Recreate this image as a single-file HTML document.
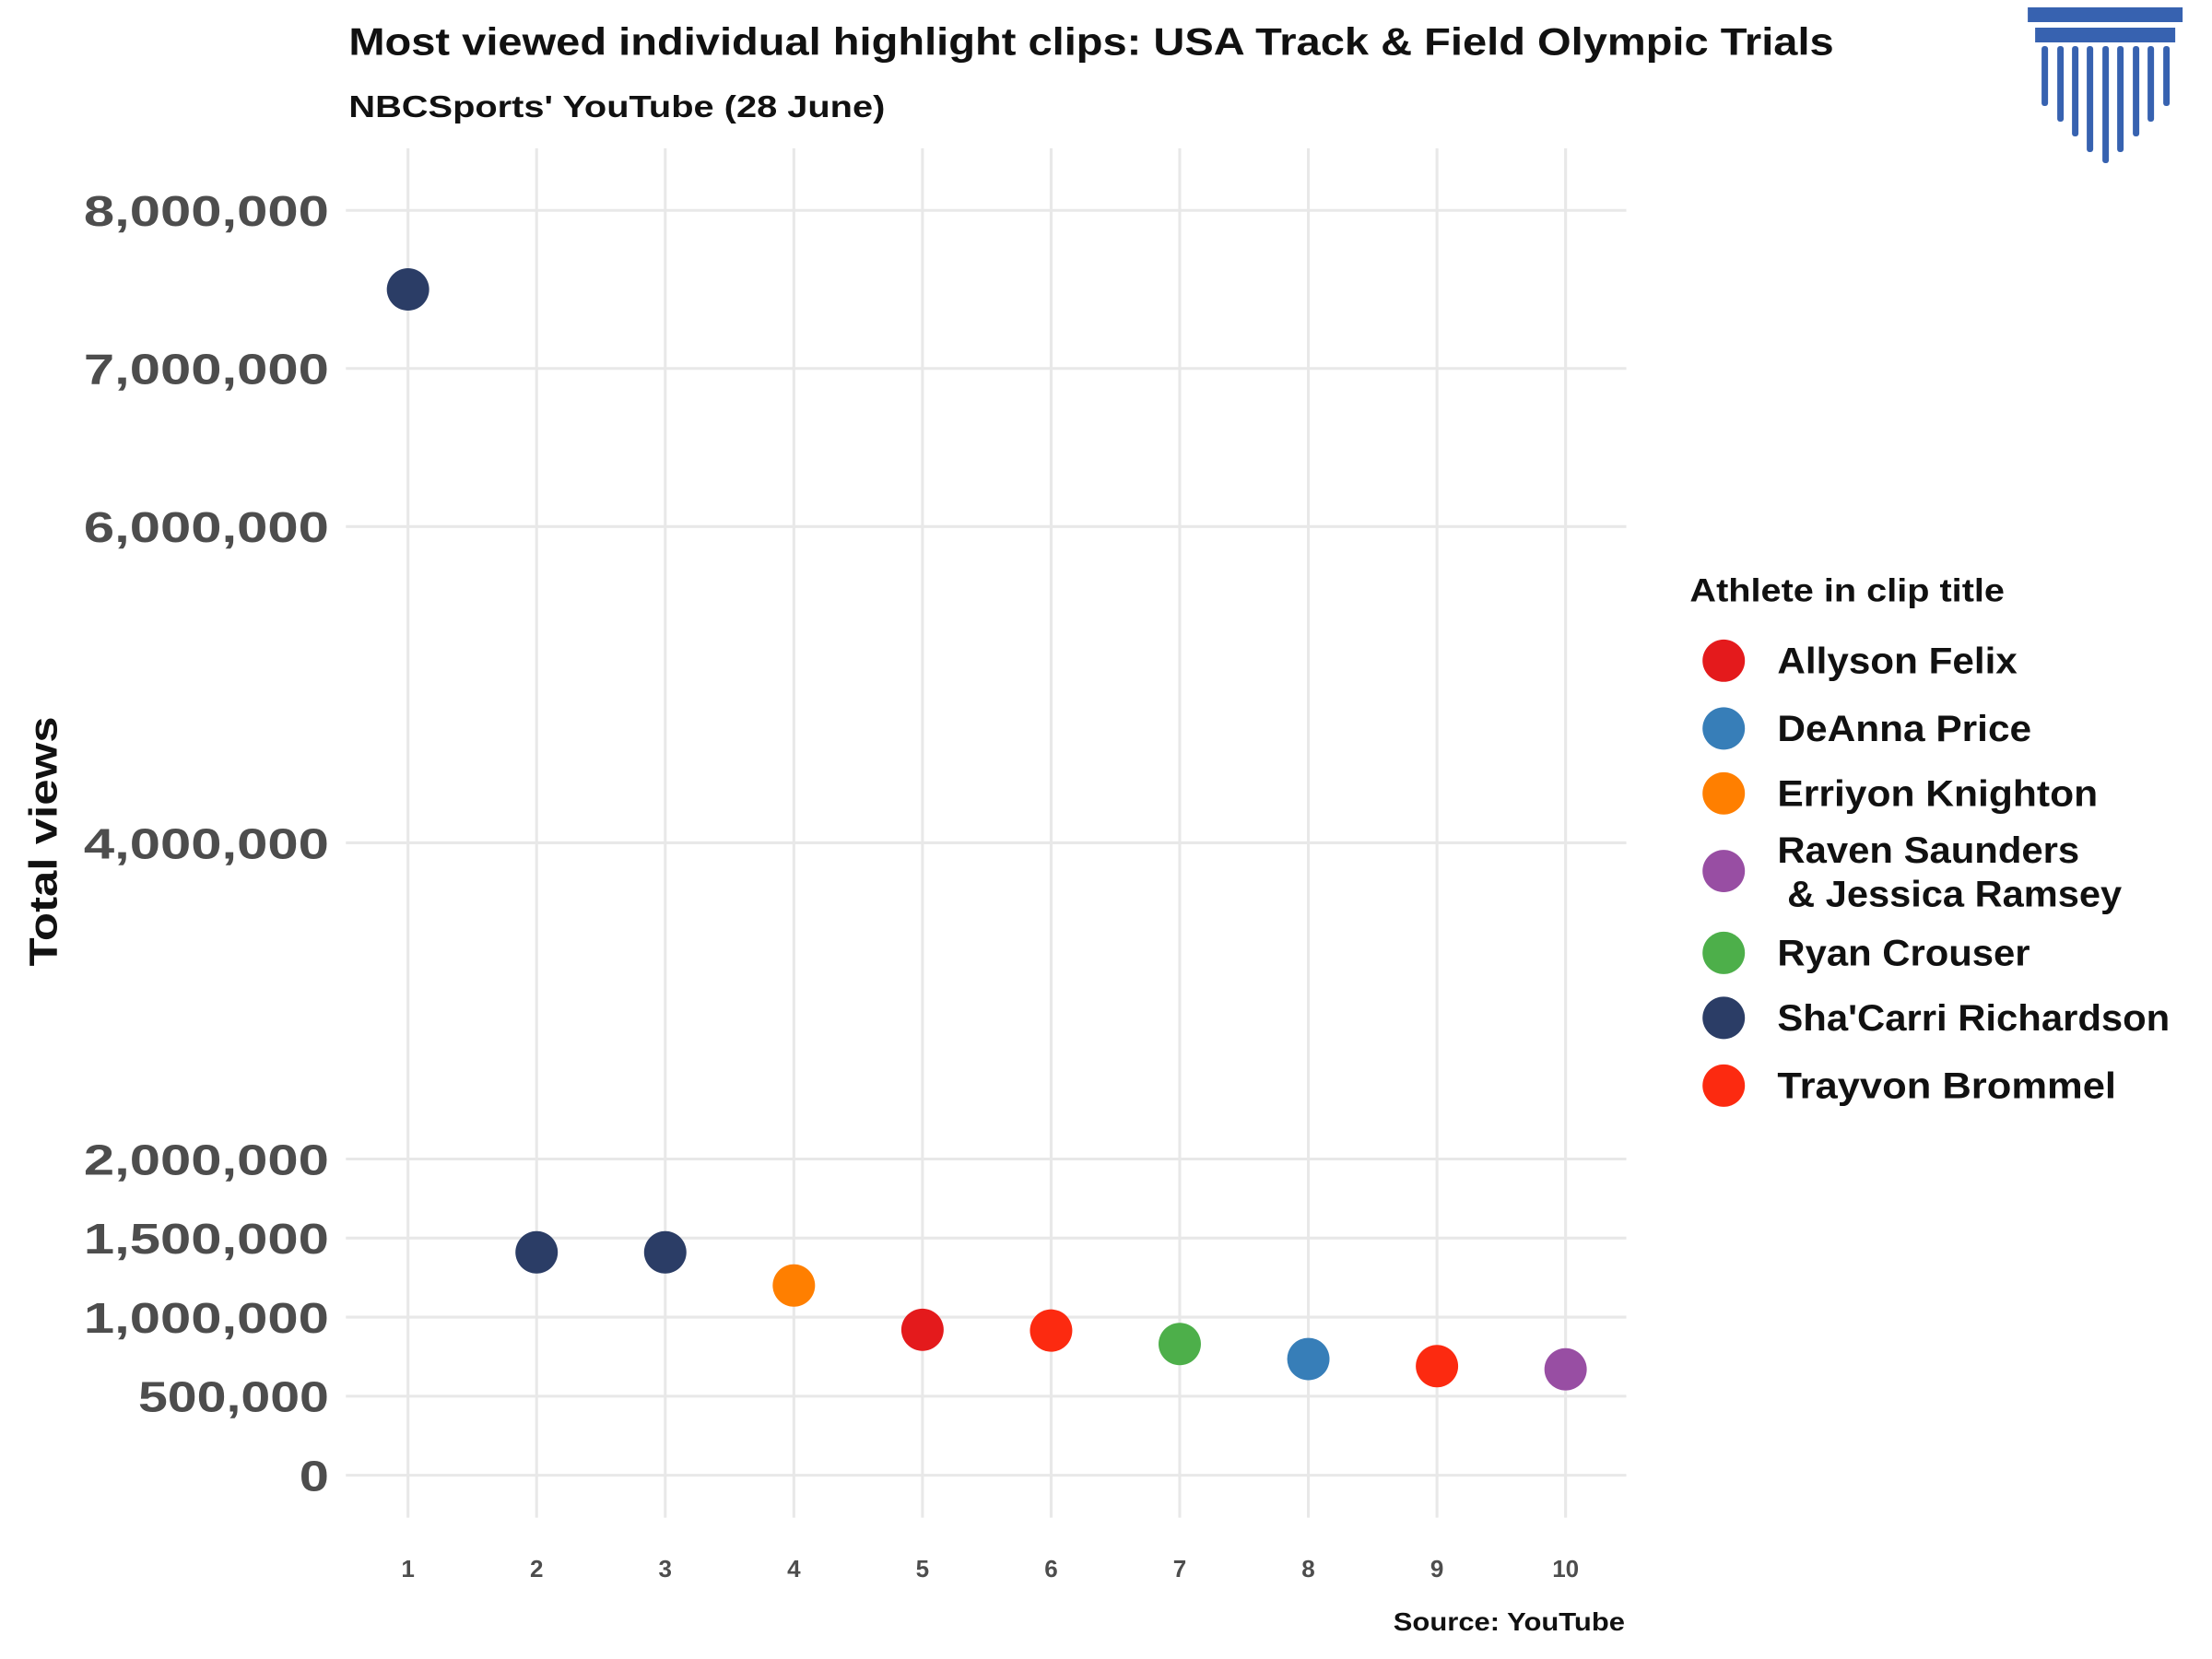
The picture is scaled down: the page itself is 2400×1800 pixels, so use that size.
<!DOCTYPE html>
<html><head><meta charset="utf-8"><style>
html,body{margin:0;padding:0;background:#fff;}
svg{display:block;font-family:"Liberation Sans","DejaVu Sans",sans-serif;}
</style></head><body>
<svg id="chart" width="2400" height="1800" viewBox="0 0 1552 1164" xmlns="http://www.w3.org/2000/svg">
<rect x="0" y="0" width="1552" height="1164" fill="#fff"/>
<g transform="scale(0.9905)">
<text x="247" y="39" font-size="27" font-weight="bold" fill="#111" textLength="1052" lengthAdjust="spacingAndGlyphs">Most viewed individual highlight clips: USA Track &amp; Field Olympic Trials</text>
<text x="247" y="83" font-size="22" font-weight="bold" fill="#111" textLength="380" lengthAdjust="spacingAndGlyphs">NBCSports' YouTube (28 June)</text>
<g transform="scale(0.6529)" fill="#3762b0">
<rect x="2200" y="8" width="168" height="16"/>
<rect x="2208" y="30" width="152" height="16"/>
<g id="cols"></g>
</g>
<g id="grid"></g>
<g id="points"></g>
<text transform="translate(40,596) rotate(-90)" text-anchor="middle" font-size="28" font-weight="bold" fill="#111" textLength="177" lengthAdjust="spacingAndGlyphs">Total views</text>
<text x="1151" y="1155" text-anchor="end" font-size="18" font-weight="bold" fill="#111" textLength="164" lengthAdjust="spacingAndGlyphs">Source: YouTube</text>
<g id="legend"></g>
</g>
</svg>
<script>
const ranks = [1,2,3,4,5,6,7,8,9,10];
const views = [7500000,1410000,1410000,1200000,920000,915000,830000,735000,690000,670000];
const athletes = ["Sha'Carri Richardson","Sha'Carri Richardson","Sha'Carri Richardson","Erriyon Knighton","Allyson Felix","Trayvon Brommel","Ryan Crouser","DeAnna Price","Trayvon Brommel","Raven Saunders & Jessica Ramsey"];
const yTicks = [0,500000,1000000,1500000,2000000,4000000,6000000,7000000,8000000];
const yTickLabels = ["0","500,000","1,000,000","1,500,000","2,000,000","4,000,000","6,000,000","7,000,000","8,000,000"];
const legendNames = ["Allyson Felix","DeAnna Price","Erriyon Knighton","Raven Saunders & Jessica Ramsey","Ryan Crouser","Sha'Carri Richardson","Trayvon Brommel"];
const legendColors = ["#e41a1c","#377eb8","#ff7f00","#984ea3","#4daf4a","#2b3d66","#fc2a10"];

const NS="http://www.w3.org/2000/svg";
function mk(tag,attrs,parent){const e=document.createElementNS(NS,tag);for(const k in attrs)e.setAttribute(k,attrs[k]);parent.appendChild(e);return e;}
const xS=r=>289+(r-1)*(1109-289)/9;
const yS=v=>1045-v*(1045-149)/8000000;

const cols=document.getElementById('cols');
const colX=[2218,2235,2251,2267,2284,2300,2317,2333,2350];
const colB=[115,132,148,165,177,165,148,132,115];
colX.forEach((x,i)=>{const r=mk('rect',{x:x-3,y:50,width:7,height:colB[i]-50,rx:3},cols);

});

const grid=document.getElementById('grid');
ranks.forEach(r=>{
 const l=mk('line',{x1:xS(r),x2:xS(r),y1:105,y2:1075,stroke:'#e8e8e8','stroke-width':2},grid);
 
 
 const t=mk('text',{x:xS(r),y:1117,'text-anchor':'middle','font-size':17,'font-weight':'bold',fill:'#4d4d4d'},grid);
 t.textContent=r;
 
 
});
yTicks.forEach((v,i)=>{
 const l=mk('line',{x1:245,x2:1152,y1:yS(v),y2:yS(v),stroke:'#e8e8e8','stroke-width':2},grid);
 
 
 const lab=yTickLabels[i];
 const t=mk('text',{x:233,y:yS(v)+11,'text-anchor':'end','font-size':30,'font-weight':'bold',fill:'#4d4d4d'},grid);
 const len=lab.length===1?21:lab.length*19.3;
 t.setAttribute('textLength',len);
 t.setAttribute('lengthAdjust','spacingAndGlyphs');
 t.textContent=lab;
 
 
});
const pts=document.getElementById('points');
ranks.forEach((r,i)=>{
 const c=mk('circle',{cx:xS(r),cy:yS(views[i]),r:15,fill:legendColors[legendNames.indexOf(athletes[i])]},pts);
 
 
});
const lg=document.getElementById('legend');
const lt=mk('text',{x:1197,y:426,'font-size':23,'font-weight':'bold',fill:'#111',textLength:223,lengthAdjust:'spacingAndGlyphs'},lg);
lt.textContent='Athlete in clip title';


const ly=[468,516,562,617,675,721,769];
const lw=[170,180,227,214,179,278,240];
legendNames.forEach((n,i)=>{
 const c=mk('circle',{cx:1221,cy:ly[i],r:15,fill:legendColors[i]},lg);
 
 
 const t=mk('text',{x:1259,y:ly[i]+9,'font-size':26,'font-weight':'bold',fill:'#111'},lg);
 if(n.indexOf(' & ')>0){
  const p=n.split(' & ');
  t.setAttribute('y',ly[i]-6);
  const a=mk('tspan',{x:1259,textLength:lw[i],lengthAdjust:'spacingAndGlyphs'},t);a.textContent=p[0];
  const b=mk('tspan',{x:1266,dy:31,textLength:237,lengthAdjust:'spacingAndGlyphs'},t);b.textContent='& '+p[1];
 } else {
  t.textContent=n;
  t.setAttribute('textLength',lw[i]);
  t.setAttribute('lengthAdjust','spacingAndGlyphs');
 }
 
 
});
</script>
</body></html>
